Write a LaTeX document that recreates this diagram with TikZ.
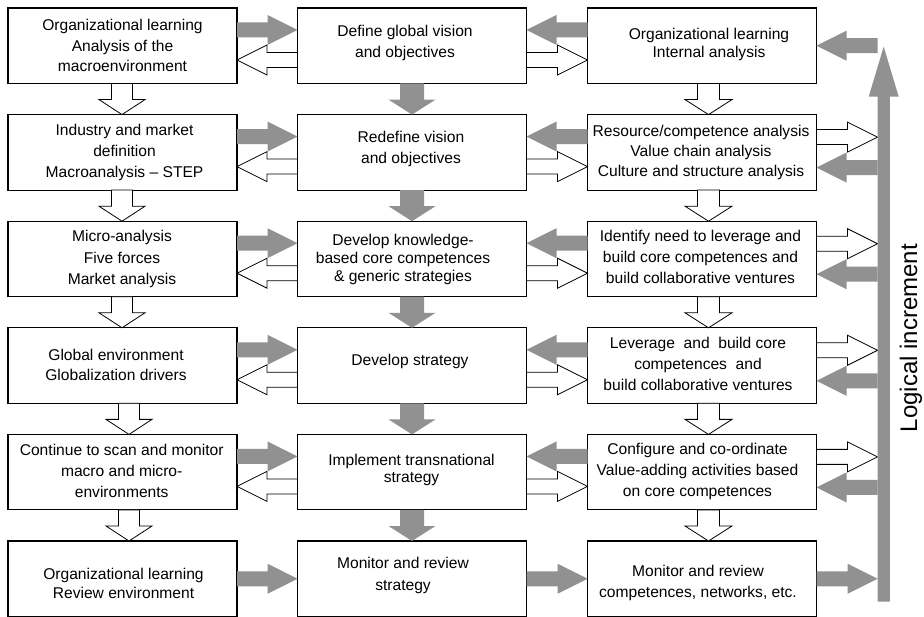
\documentclass[tikz,border=0pt]{standalone}
\usepackage{fontspec}
\setmainfont{Liberation Sans}
\usetikzlibrary{calc}
\definecolor{arrgray}{RGB}{145,145,145}
% block arrows: style, tail, tip, shaft half width, head half width, head length
\newcommand\rarr[6]{\draw[#1] let \p1=(#2), \p2=(#3) in (\x1,\y1+#4) -- (\x2-#6,\y1+#4) -- (\x2-#6,\y1+#5) -- (\x2,\y1) -- (\x2-#6,\y1-#5) -- (\x2-#6,\y1-#4) -- (\x1,\y1-#4) -- cycle;}
\newcommand\larr[6]{\draw[#1] let \p1=(#2), \p2=(#3) in (\x1,\y1+#4) -- (\x2+#6,\y1+#4) -- (\x2+#6,\y1+#5) -- (\x2,\y1) -- (\x2+#6,\y1-#5) -- (\x2+#6,\y1-#4) -- (\x1,\y1-#4) -- cycle;}
\newcommand\darr[6]{\draw[#1] let \p1=(#2), \p2=(#3) in (\x1-#4,\y1) -- (\x1-#4,\y2+#6) -- (\x1-#5,\y2+#6) -- (\x1,\y2) -- (\x1+#5,\y2+#6) -- (\x1+#4,\y2+#6) -- (\x1+#4,\y1) -- cycle;}
\newcommand\uarr[6]{\draw[#1] let \p1=(#2), \p2=(#3) in (\x1-#4,\y1) -- (\x1-#4,\y2-#6) -- (\x1-#5,\y2-#6) -- (\x1,\y2) -- (\x1+#5,\y2-#6) -- (\x1+#4,\y2-#6) -- (\x1+#4,\y1) -- cycle;}
\begin{document}
\begin{tikzpicture}[x=1pt,y=-1pt,
  box/.style={draw=black, line width=1.1pt, minimum width=229pt, minimum height=75.5pt, inner sep=0pt, outer sep=0pt},
  txt/.style={font=\fontsize{15.6}{#1}\selectfont, align=center, inner sep=0pt, anchor=north},
  txt/.default=20.5,
  ga/.style={fill=arrgray, draw=none},
  wa/.style={fill=white, draw=black, line width=0.8pt, line join=miter}]
\useasboundingbox[fill=white] (0,0) rectangle (924,617);
% boxes
\foreach \i/\y in {1/45.75,2/152.35,3/258.95,4/365.55,5/472.15,6/578.75}{
  \node[box] (a\i) at (122.5,\y) {};
  \node[box] (b\i) at (412,\y) {};
  \node[box] (c\i) at (702,\y) {};
}
% texts
\node[txt] (a1t) at (122.5,18.7) {\rule{0pt}{12pt}Organizational learning\\Analysis of the\\macroenvironment};
\node[txt=20.6] (b1t) at (405,24.7) {\rule{0pt}{12pt}Define global vision\\and objectives};
\node[txt=18.5] (c1t) at (709,27.3) {\rule{0pt}{12pt}Organizational learning\\Internal analysis};
\node[txt=21] (a2t) at (124.5,123) {\rule{0pt}{12pt}Industry and market\\definition\\Macroanalysis – STEP};
\node[txt=20.6] (b2t) at (411,130.7) {\rule{0pt}{12pt}Redefine vision\\and objectives};
\node[txt=20] (c2t) at (701,124.7) {\rule{0pt}{12pt}Resource/competence analysis\\Value chain analysis\\Culture and structure analysis};
\node[txt=21.3] (a3t) at (122,229.7) {\rule{0pt}{12pt}Micro-analysis\\Five forces\\Market analysis};
\node[txt=18.3] (b3t) at (403,233) {\rule{0pt}{12pt}Develop knowledge-\\based core competences\\\& generic strategies};
\node[txt=21] (c3t) at (700.5,229) {\rule{0pt}{12pt}Identify need to leverage and\\build core competences and\\build collaborative ventures};
\node[txt=20.7] (a4t) at (116,348) {\rule{0pt}{12pt}Global environment\\Globalization drivers};
\node[txt] (b4t) at (410,353.7) {\rule{0pt}{12pt}Develop strategy};
\node[txt=20.8] (c4t) at (698,336.3) {\rule{0pt}{12pt}Leverage~ and~ build core\\competences~ and\\build collaborative ventures};
\node[txt=21] (a5t) at (121.7,443) {\rule{0pt}{12pt}Continue to scan and monitor\\macro and micro-\\environments};
\node[txt=17.5] (b5t) at (411.5,453) {\rule{0pt}{12pt}Implement transnational\\strategy};
\node[txt=21.3] (c5t) at (697.5,442) {\rule{0pt}{12pt}Configure and co-ordinate\\Value-adding activities based\\on core competences};
\node[txt=19] (a6t) at (123.5,567.3) {\rule{0pt}{12pt}Organizational learning\\Review environment};
\node[txt=21.7] (b6t) at (403,556.3) {\rule{0pt}{12pt}Monitor and review\\strategy};
\node[txt=20.6] (c6t) at (698,564.7) {\rule{0pt}{12pt}Monitor and review\\competences, networks, etc.};
% logical increment bar
\coordinate (barbot) at (883.7,601.7);
\coordinate (bartop) at (883.7,46.7);
\coordinate (barL) at (877.5,0);
\node[rotate=90, font=\fontsize{24}{28}\selectfont, inner sep=0pt] (logic) at (911,338) {Logical increment};
% horizontal arrows rows 1-5
\foreach \i in {1,...,5}{
  \rarr{ga}{$(a\i.north east)+(0,22)$}{$(b\i.north west)+(0,22)$}{7.5pt}{15pt}{30pt}
  \larr{wa}{$(b\i.north west)+(0,52)$}{$(a\i.north east)+(0,52)$}{7.5pt}{15pt}{30pt}
  \larr{ga}{$(c\i.north west)+(0,22)$}{$(b\i.north east)+(0,22)$}{7.5pt}{15pt}{30pt}
  \rarr{wa}{$(b\i.north east)+(0,52)$}{$(c\i.north west)+(0,52)$}{7.5pt}{15pt}{30pt}
}
% right side arrows
\larr{ga}{c1.east -| barL}{c1.east}{7.5pt}{15pt}{30pt}
\foreach \i in {2,...,5}{
  \coordinate (rw\i) at ($(c\i.north east)+(0,22.5)$);
  \coordinate (rg\i) at ($(c\i.north east)+(0,53)$);
  \rarr{wa}{rw\i}{barL}{7.5pt}{15pt}{30pt}
  \larr{ga}{rg\i -| barL}{rg\i}{7.5pt}{15pt}{30pt}
}
% bottom row arrows
\rarr{ga}{a6.east}{b6.west}{7.5pt}{15pt}{30pt}
\rarr{ga}{b6.east}{c6.west}{7.5pt}{15pt}{30pt}
\rarr{ga}{c6.east}{barL}{7.5pt}{15pt}{30pt}
% vertical arrows
\foreach \i/\j/\dx in {1/2/-0.5,2/3/-0.5,3/4/-0.5,4/5/6.5,5/6/6.5}{
  \darr{wa}{$(a\i.south)+(\dx,0)$}{a\j.north}{10.5pt}{23pt}{15pt}
  \darr{ga}{b\i.south}{b\j.north}{12pt}{23.5pt}{15pt}
  \darr{wa}{$(c\i.south)+(6.5,0)$}{c\j.north}{11pt}{23.5pt}{15pt}
}
% big vertical arrow
\uarr{ga}{barbot}{bartop}{6.2pt}{15pt}{50pt}
\end{tikzpicture}
\end{document}
